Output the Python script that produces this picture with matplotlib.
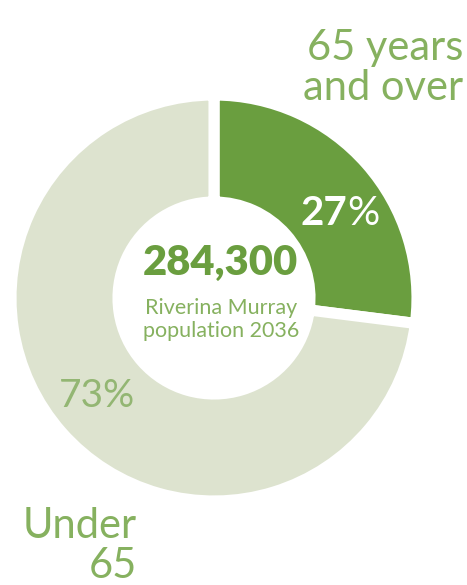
import matplotlib
matplotlib.use("Agg")
import matplotlib.pyplot as plt

labels = ["65 years\nand over", "Under\n65"]
values = [27, 73]
pct_labels = ["27", "73%"]
total_label = "284,300"
sub_label = "Riverina Murray\npopulation 2036"

GREEN = "#6a9e3f"
LIGHT = "#dde3cf"
TEXT_GREEN = "#86b15f"

W, H = 467, 585
fig = plt.figure(figsize=(W / 100, H / 100), dpi=100)
ax = fig.add_axes([0, 0, 1, 1])

cx, cy = 214, H - 298
R = 203
ax.pie(values, colors=[GREEN, LIGHT], startangle=90, counterclock=False,
       center=(cx, cy), radius=R, frame=True,
       wedgeprops=dict(width=R - 96, edgecolor="white", linewidth=8))
ax.set_xlim(0, W)
ax.set_ylim(0, H)
ax.set_aspect("equal")
ax.axis("off")

fam = ["Lato", "DejaVu Sans"]

ax.text(463, H - 100, labels[0], ha="right", va="baseline", fontsize=30,
        color=TEXT_GREEN, family=fam, weight="normal", multialignment="right",
        linespacing=1.05)
ax.text(137, H - 578, labels[1], ha="right", va="baseline", fontsize=30,
        color=TEXT_GREEN, family=fam, weight="normal", multialignment="right",
        linespacing=1.05)

ax.text(97, H - 407, pct_labels[1], ha="center", va="baseline", fontsize=28,
        color="#93b673", family=fam, weight="normal")

ax.text(347, H - 225, pct_labels[0], ha="right", va="baseline", fontsize=29,
        color="white", family=fam, weight="bold")
ax.text(347, H - 225, "%", ha="left", va="baseline", fontsize=29,
        color="white", family=fam, weight="normal")

ax.text(220, H - 275, total_label, ha="center", va="baseline", fontsize=30,
        color=GREEN, family=fam, weight="heavy")
ax.text(221, H - 337, sub_label, ha="center", va="baseline", fontsize=15.5,
        color=TEXT_GREEN, family=fam, weight="normal", linespacing=1.2)

fig.savefig("out.png", dpi=100)
